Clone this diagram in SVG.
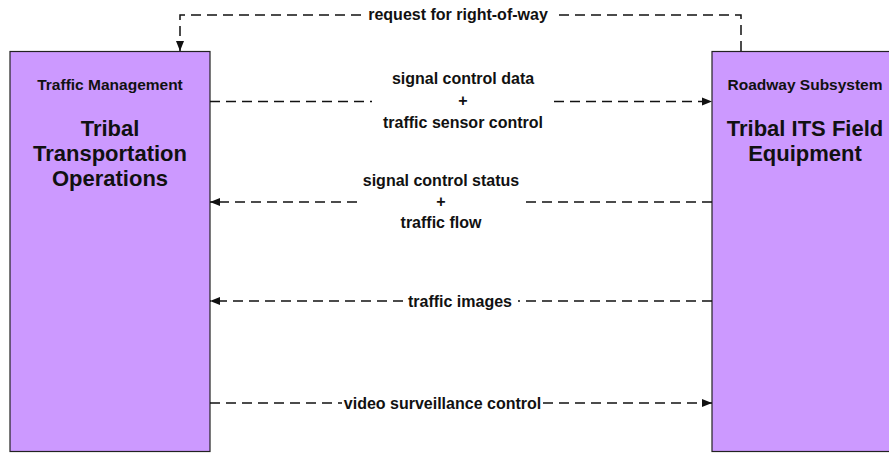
<svg xmlns="http://www.w3.org/2000/svg" width="889" height="453" viewBox="0 0 889 453">
<defs>
<style>
.box{fill:#CC99FF;stroke:#222;stroke-width:1.2}
.t-sub{font-family:"Liberation Sans",Arial,sans-serif;font-weight:bold;font-size:15.5px;fill:#111;text-anchor:middle}
.t-main{font-family:"Liberation Sans",Arial,sans-serif;font-weight:bold;font-size:22px;fill:#111;text-anchor:middle}
.lbl{font-family:"Liberation Sans",Arial,sans-serif;font-weight:bold;font-size:16px;fill:#111;text-anchor:middle}
.flow{fill:none;stroke:#111;stroke-width:1.5;stroke-dasharray:10,6}
</style>
<marker id="arr" markerWidth="10" markerHeight="10" refX="10" refY="5" orient="auto" markerUnits="userSpaceOnUse">
<path d="M0,1 L10,5 L0,9 Z" fill="#111"/>
</marker>
</defs>
<rect width="889" height="453" fill="#fff"/>
<g id="node-tto">
<rect class="box" x="10" y="51.5" width="200" height="400"/>
<text class="t-sub" x="110" y="90">Traffic Management</text>
<text class="t-main" x="110" y="136">Tribal</text>
<text class="t-main" x="110" y="161">Transportation</text>
<text class="t-main" x="110" y="186">Operations</text>
</g>
<g id="node-its">
<rect class="box" x="712" y="51.5" width="190" height="400"/>
<text class="t-sub" x="805" y="90">Roadway Subsystem</text>
<text class="t-main" x="805" y="136">Tribal ITS Field</text>
<text class="t-main" x="805" y="161">Equipment</text>
</g>
<g id="connectors">
<path class="flow" d="M741,51 V15 H556"/>
<path class="flow" d="M361,15 H180 V51" marker-end="url(#arr)"/>
<text class="lbl" x="458" y="20">request for right-of-way</text>

<path class="flow" d="M210,101.5 H372"/>
<path class="flow" d="M554,101.5 H712" marker-end="url(#arr)"/>
<text class="lbl" x="463" y="84">signal control data</text>
<text class="lbl" x="463" y="106">+</text>
<text class="lbl" x="463" y="128">traffic sensor control</text>

<path class="flow" d="M357,202 H210" marker-end="url(#arr)"/>
<path class="flow" d="M712,202 H525"/>
<text class="lbl" x="441" y="186">signal control status</text>
<text class="lbl" x="441" y="207">+</text>
<text class="lbl" x="441" y="228">traffic flow</text>

<path class="flow" d="M403,301 H210" marker-end="url(#arr)"/>
<path class="flow" d="M712,301 H518"/>
<text class="lbl" x="460" y="306.5">traffic images</text>

<path class="flow" d="M210,403 H342"/>
<path class="flow" d="M543,403 H712" marker-end="url(#arr)"/>
<text class="lbl" x="442.5" y="408.5">video surveillance control</text>
</g>
</svg>
